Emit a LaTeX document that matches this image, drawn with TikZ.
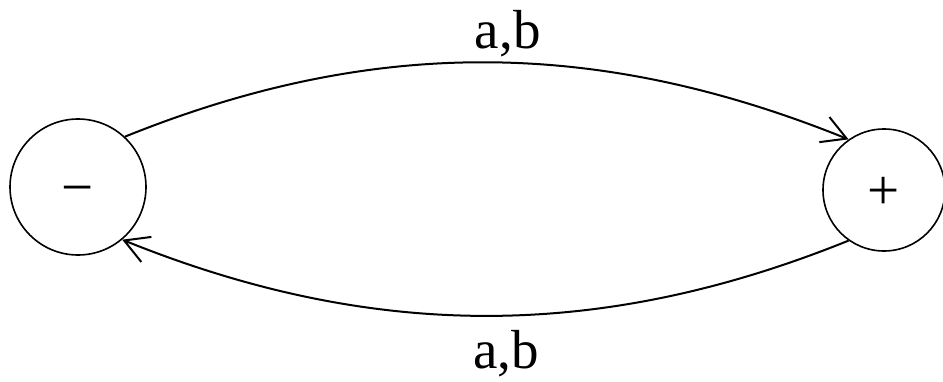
\documentclass[tikz,border=0pt]{standalone}
\usepackage{fontspec}
\setmainfont{Liberation Serif}
\usetikzlibrary{arrows.meta,positioning}

\begin{document}
\begin{tikzpicture}[
  x=1pt,y=1pt,
  >={Straight Barb[length=24pt,width=27pt,line width=2pt]},
  state/.style={circle, draw, line width=1.6pt, inner sep=0pt, text height=38pt, text depth=0pt, font=\fontsize{57}{57}\selectfont},
  trans/.style={->, line width=2pt},
  lbl/.style={font=\fontsize{55}{58}\selectfont, inner sep=4pt, xshift=21pt},
]
\useasboundingbox (0,0) rectangle (943,381);
% states
\node[state, minimum size=136pt] (neg) at (78,194) {−};
\node[state, minimum size=122pt] (pos) at (884,191) {+};
% transitions
\draw[trans] (neg.47) to[out=22,in=158,looseness=0.95] node[lbl,midway,above] (top) {a,b} (pos.125);
\draw[trans] (pos.235) to[out=202,in=338,looseness=0.95] node[lbl,midway,below,yshift=-10pt] (bot) {a,b} (neg.310);
\end{tikzpicture}
\end{document}
